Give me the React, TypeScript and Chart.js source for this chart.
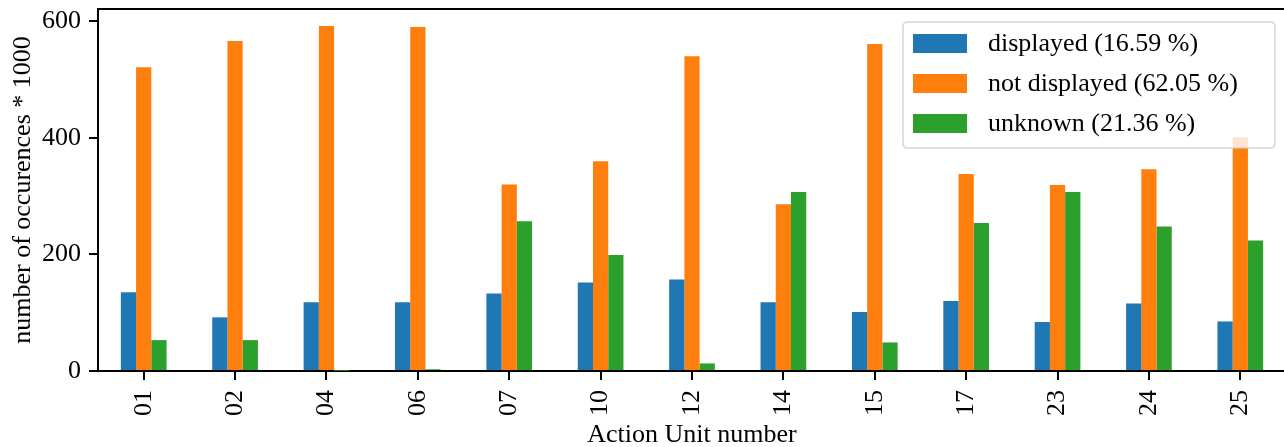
import React, { useEffect, useRef } from "react";
import { Chart, registerables } from "chart.js";

Chart.register(...registerables);

const categories = ["01", "02", "04", "06", "07", "10", "12", "14", "15", "17", "23", "24", "25"];
const displayed = [135, 92, 118, 118, 133, 152, 157, 118, 101, 120, 84, 116, 85];
const notDisplayed = [521, 566, 592, 590, 320, 360, 540, 286, 561, 338, 319, 346, 401];
const unknown = [53, 53, 0.6, 3, 257, 199, 13, 307, 49, 254, 307, 248, 224];
const seriesLabels = ["displayed (16.59 %)", "not displayed (62.05 %)", "unknown (21.36 %)"];
const seriesColors = ["#1f77b4", "#ff7f0e", "#2ca02c"];
const yTicks = [0, 200, 400, 600];

const FONT = "'Liberation Serif', 'Times New Roman', serif";
const FS = 26;

const framePlugin = {
  id: "frameAndLegend",
  afterDraw(chart: any) {
    const { ctx, chartArea } = chart;
    ctx.save();
    ctx.strokeStyle = "#000";
    ctx.lineWidth = 2;
    ctx.beginPath();
    ctx.moveTo(chartArea.left - 1, chartArea.top);
    ctx.lineTo(chartArea.right, chartArea.top);
    ctx.lineTo(chartArea.right, chartArea.bottom);
    ctx.stroke();

    const bx = 903, by = 22, bw = 372, bh = 126, r = 5;
    ctx.beginPath();
    ctx.moveTo(bx + r, by);
    ctx.lineTo(bx + bw - r, by);
    ctx.quadraticCurveTo(bx + bw, by, bx + bw, by + r);
    ctx.lineTo(bx + bw, by + bh - r);
    ctx.quadraticCurveTo(bx + bw, by + bh, bx + bw - r, by + bh);
    ctx.lineTo(bx + r, by + bh);
    ctx.quadraticCurveTo(bx, by + bh, bx, by + bh - r);
    ctx.lineTo(bx, by + r);
    ctx.quadraticCurveTo(bx, by, bx + r, by);
    ctx.closePath();
    ctx.fillStyle = "rgba(255,255,255,0.8)";
    ctx.fill();
    ctx.strokeStyle = "rgba(204,204,204,0.8)";
    ctx.lineWidth = 1.5;
    ctx.stroke();

    ctx.font = `${FS}px ${FONT}`;
    ctx.textBaseline = "middle";
    ctx.textAlign = "left";
    seriesLabels.forEach((lab, i) => {
      const cy = 43.5 + i * 40;
      ctx.fillStyle = seriesColors[i];
      ctx.fillRect(913, cy - 9.5, 54, 19);
      ctx.fillStyle = "#000";
      ctx.fillText(lab, 988, cy + 1);
    });
    ctx.restore();
  },
};

export default function App() {
  const ref = useRef<HTMLCanvasElement>(null);
  useEffect(() => {
    document.body.style.margin = "0";
    document.body.style.overflow = "hidden";
    const chart = new Chart(ref.current!, {
      type: "bar",
      data: {
        labels: categories,
        datasets: [displayed, notDisplayed, unknown].map((d, i) => ({
          label: seriesLabels[i],
          data: d,
          backgroundColor: seriesColors[i],
          borderWidth: 0,
          categoryPercentage: 0.5,
          barPercentage: 1.0,
        })),
      },
      options: {
        animation: false,
        responsive: false,
        layout: { padding: { top: 9, right: 6, left: 0, bottom: 0 } },
        plugins: { legend: { display: false }, tooltip: { enabled: false } },
        scales: {
          x: {
            grid: { display: true, offset: false, drawOnChartArea: false, drawTicks: true, tickLength: 9, color: "#000", lineWidth: 2 },
            border: { display: true, color: "#000", width: 2 },
            ticks: {
              autoSkip: false,
              maxRotation: 90,
              minRotation: 90,
              padding: 10,
              color: "#000",
              font: { family: FONT, size: FS },
            },
            title: {
              display: true,
              text: "Action Unit number",
              color: "#000",
              font: { family: FONT, size: FS },
              padding: { top: 0, bottom: -4 },
            },
            afterFit: (s: any) => {
              s.height = 447 - 371;
              s.paddingLeft = 0;
              s.paddingRight = 0;
            },
          },
          y: {
            min: 0,
            max: 621,
            afterBuildTicks: (s: any) => {
              s.ticks = yTicks.map((v) => ({ value: v }));
            },
            grid: { display: true, drawOnChartArea: false, drawTicks: true, tickLength: 9, color: "#000", lineWidth: 2 },
            border: { display: true, color: "#000", width: 2 },
            ticks: { padding: 8, color: "#000", font: { family: FONT, size: FS } },
            title: {
              display: true,
              text: "number of occurences * 1000",
              color: "#000",
              font: { family: FONT, size: FS },
              padding: { top: 8, bottom: 0 },
            },
            afterFit: (s: any) => {
              s.width = 98;
              s.paddingTop = 0;
              s.paddingBottom = 0;
            },
          },
        },
      },
      plugins: [framePlugin],
    });
    return () => chart.destroy();
  }, []);
  return <canvas ref={ref} width={1292} height={447} style={{ display: "block" }} />;
}
